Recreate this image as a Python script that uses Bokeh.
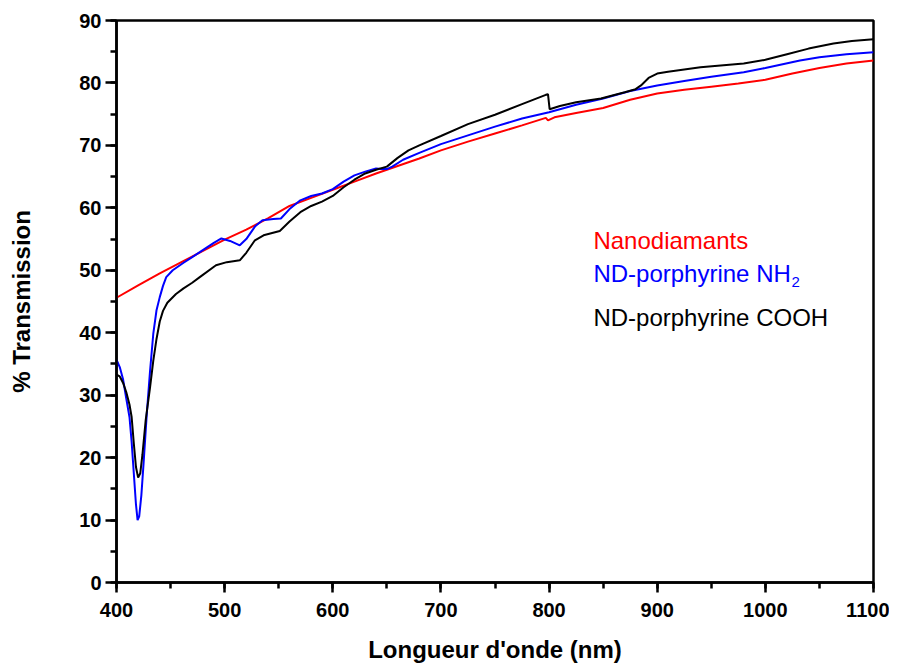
from bokeh.plotting import figure
from bokeh.models import Range1d, SingleIntervalTicker
from bokeh.core.properties import value
from bokeh.embed import file_html
from bokeh.resources import INLINE

# ---- data ----
wl_nd = [400, 420, 440, 460, 480, 500, 520, 540, 560, 580, 600, 620, 640, 660, 680, 700,
         725, 750, 775, 797, 799, 805, 825, 850, 875, 900, 925, 950, 975, 1000, 1025,
         1050, 1075, 1100]
t_nd = [45.6, 47.6, 49.5, 51.3, 53.1, 54.9, 56.5, 58.3, 60.3, 61.6, 62.9, 64.2, 65.5, 66.7,
        67.9, 69.2, 70.6, 71.9, 73.2, 74.4, 74.0, 74.5, 75.2, 76.0, 77.3, 78.3, 78.9, 79.4,
        79.9, 80.5, 81.5, 82.4, 83.1, 83.6]

wl_nh2 = [400, 403, 406, 409, 412, 414, 416, 418, 419.5, 421, 423, 425, 428, 431, 434, 437,
          440, 443, 446, 452, 462, 470, 477, 490, 497, 505, 514, 520, 528, 535, 545, 552, 560,
          570, 580, 590, 600, 610, 620, 630, 640, 645, 650, 655, 665, 680, 700, 725, 750,
          775, 800, 825, 850, 875, 900, 925, 950, 980, 1000, 1032, 1050, 1075, 1100]
t_nh2 = [35.7, 34.5, 32.6, 29.5, 26.5, 22.5, 17.5, 12.5, 10.0, 10.6, 14.0, 19.0, 27.0, 33.8,
         39.8, 43.6, 45.7, 47.5, 48.9, 50.0, 51.2, 52.1, 52.9, 54.4, 55.1, 54.7, 54.0, 55.0,
         57.0, 58.0, 58.2, 58.3, 59.8, 61.2, 61.9, 62.3, 63.0, 64.2, 65.2, 65.8, 66.3, 66.2,
         66.2, 66.6, 67.7, 68.8, 70.2, 71.6, 73.0, 74.3, 75.3, 76.5, 77.5, 78.7, 79.6, 80.3,
         81.0, 81.7, 82.4, 83.6, 84.1, 84.6, 84.9]

wl_cooh = [400, 403, 406, 409, 412, 414, 416, 418, 420, 422, 424, 427, 431, 434, 437, 440,
           443, 447, 455, 462, 470, 477, 492, 502, 514, 520, 528, 536, 551, 560, 570, 580, 590,
           600, 610, 620, 630, 640, 650, 660, 670, 680, 700, 725, 750, 775, 797, 799, 800.5,
           810, 825, 848, 870, 880, 885, 892, 900, 910, 940, 980, 1000, 1020, 1040, 1063, 1080,
           1100]
t_cooh = [33.3, 33.0, 32.0, 30.5, 28.5, 26.5, 22.3, 18.5, 16.8, 17.5, 20.5, 26.0, 31.2, 35.5,
          39.0, 41.8, 43.5, 44.8, 46.2, 47.1, 48.0, 48.9, 50.8, 51.3, 51.6, 52.8, 54.8, 55.6,
          56.3, 57.8, 59.3, 60.3, 61.0, 61.9, 63.3, 64.5, 65.5, 66.1, 66.6, 68.0, 69.2, 70.0,
          71.5, 73.4, 74.9, 76.6, 78.1, 78.2, 75.8, 76.3, 76.9, 77.5, 78.5, 79.0, 79.6, 80.8,
          81.5, 81.8, 82.5, 83.1, 83.7, 84.6, 85.5, 86.3, 86.7, 87.0]

labels = ["Nanodiamants", "ND-porphyrine NH", "ND-porphyrine COOH"]
label_colors = ["#ff0000", "#0000ff", "#000000"]
label_x = [841, 841, 841]
label_y = [54.8, 49.5, 42.4]

FONT = "Liberation Sans"

p = figure(width=889, height=665, output_backend="svg", toolbar_location=None,
           x_range=Range1d(400, 1100), y_range=Range1d(0, 90),
           min_border_left=116, min_border_right=16, min_border_top=20, min_border_bottom=83,
           background_fill_color="white", border_fill_color="white")

p.xgrid.visible = False
p.ygrid.visible = False
p.outline_line_color = "black"
p.outline_line_width = 2.5

p.line(wl_nd, t_nd, line_color="#ff0000", line_width=2)
p.line(wl_nh2, t_nh2, line_color="#0000ff", line_width=2)
p.line(wl_cooh, t_cooh, line_color="#000000", line_width=2)

p.text(x=label_x, y=label_y, text=labels, text_color=label_colors,
       text_font=value(FONT), text_font_size="24px", text_baseline="middle", text_align="left")
# subscript 2 of NH2
p.text(x=[841], y=[49.5], text=["2"], text_color="#0000ff", text_font=value(FONT),
       text_font_size="15px", text_baseline="middle", text_align="left",
       x_offset=[198], y_offset=[9])

p.xaxis.ticker = SingleIntervalTicker(interval=100, num_minor_ticks=2)
p.yaxis.ticker = SingleIntervalTicker(interval=10, num_minor_ticks=2)

for ax in (p.xaxis[0], p.yaxis[0]):
    ax.axis_line_width = 2.5
    ax.axis_line_color = "black"
    ax.major_tick_line_width = 2.5
    ax.minor_tick_line_width = 2.5
    ax.major_tick_in = 0
    ax.minor_tick_in = 0
    ax.major_label_text_font = FONT
    ax.major_label_text_font_style = "bold"
    ax.major_label_text_font_size = "20px"
    ax.major_label_text_color = "black"
    ax.axis_label_text_font = FONT
    ax.axis_label_text_font_style = "bold"
    ax.axis_label_text_font_size = "24px"
    ax.axis_label_text_color = "black"

p.xaxis.major_tick_out = 10
p.xaxis.minor_tick_out = 6
p.yaxis.major_tick_out = 11
p.yaxis.minor_tick_out = 6
p.xaxis.major_label_standoff = 10
p.yaxis.major_label_standoff = 4
p.xaxis.axis_label = "Longueur d'onde (nm)"
p.yaxis.axis_label = "% Transmission"
p.xaxis.axis_label_standoff = 16
p.yaxis.axis_label_standoff = 41

open("out.html", "w").write(file_html(p, INLINE))
